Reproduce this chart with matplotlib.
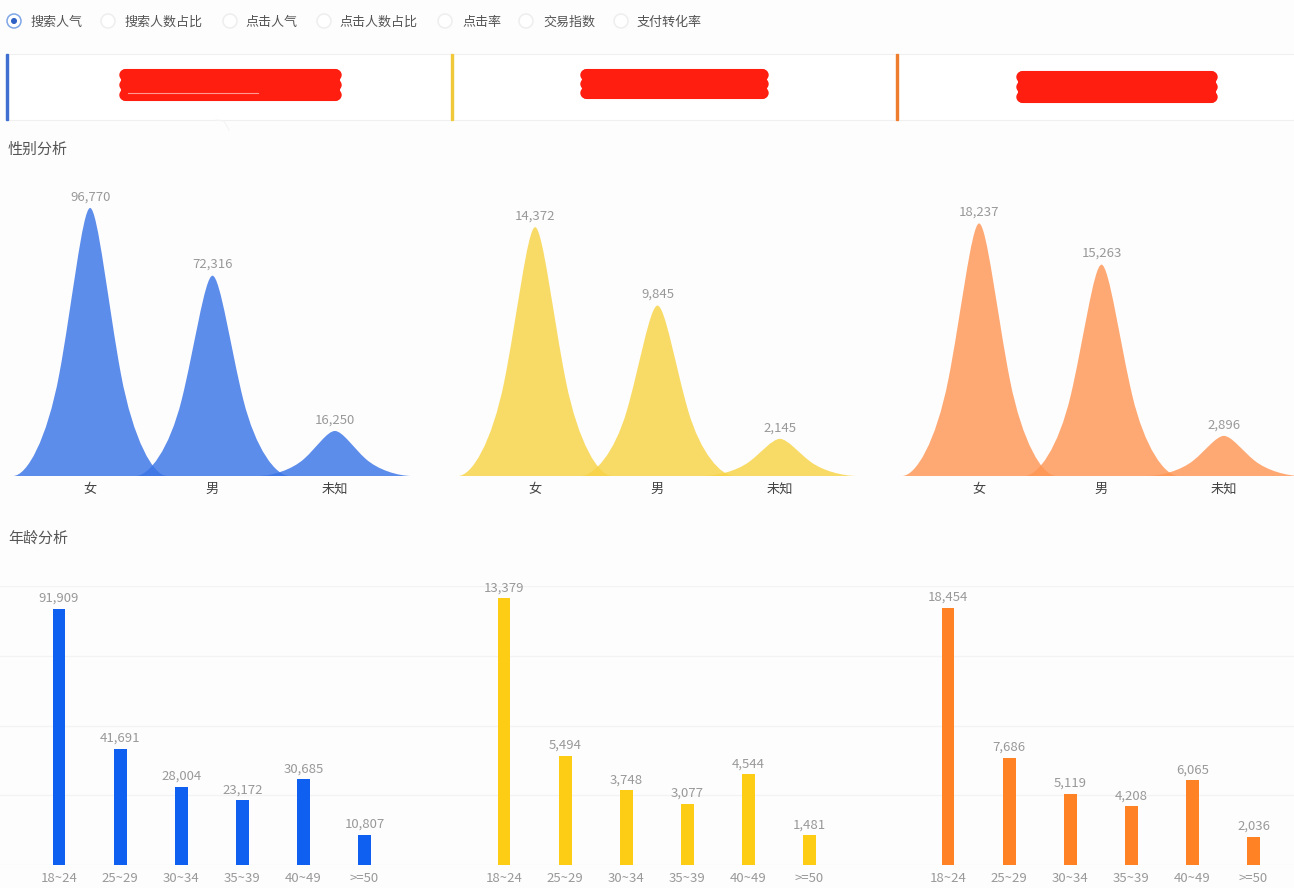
import matplotlib
matplotlib.use("Agg")
import matplotlib.pyplot as plt
import numpy as np
from matplotlib.patches import Circle, FancyBboxPatch, PathPatch, Rectangle
from matplotlib.path import Path

plt.rcParams["font.family"] = ["Noto Sans CJK SC", "DejaVu Sans"]

W, H = 1294, 888
BG = "#fdfdfd"

metric_options = ["搜索人气", "搜索人数占比", "点击人气", "点击人数占比", "点击率", "交易指数", "支付转化率"]
gender_labels = ["女", "男", "未知"]
age_labels = ["18~24", "25~29", "30~34", "35~39", "40~49", ">=50"]

gender_a = [96770, 72316, 16250]
gender_b = [14372, 9845, 2145]
gender_c = [18237, 15263, 2896]

age_a = [91909, 41691, 28004, 23172, 30685, 10807]
age_b = [13379, 5494, 3748, 3077, 4544, 1481]
age_c = [18454, 7686, 5119, 4208, 6065, 2036]

gender_max = [100000, 16000, 20000]
age_max = [100000, 14000, 20000]

peak_colors = ["#3a74e6", "#f7d345", "#ff9655"]
bar_colors = ["#0f5ff0", "#fccd14", "#ff8224"]
edge_colors = ["#3f6fd0", "#f0c93a", "#ef7d2e"]


def px_axes(fig, x0, y0, x1, y1):
    # pixel box, y measured from the top of the image
    ax = fig.add_axes([x0 / W, 1 - y1 / H, (x1 - x0) / W, (y1 - y0) / H])
    ax.patch.set_alpha(0)
    for s in ax.spines.values():
        s.set_visible(False)
    return ax


def bump(x, h, w=0.63):
    # long flared foot, narrow top, built from two cubic segments per side
    verts = [
        (x - w, 0),
        (x - 0.82 * w, 0),
        (x - 0.56 * w, 0.134 * h),
        (x - 0.40 * w, 0.38 * h),
        (x - 0.24 * w, 0.626 * h),
        (x - 0.10 * w, h),
        (x, h),
        (x + 0.10 * w, h),
        (x + 0.24 * w, 0.626 * h),
        (x + 0.40 * w, 0.38 * h),
        (x + 0.56 * w, 0.134 * h),
        (x + 0.82 * w, 0),
        (x + w, 0),
        (x - w, 0),
    ]
    codes = [Path.MOVETO] + [Path.CURVE4] * 12 + [Path.CLOSEPOLY]
    return Path(verts, codes)


def plot_gender(ax, values, ymax, color):
    for i, v in enumerate(values):
        ax.add_patch(PathPatch(bump(i, v), facecolor=color, edgecolor="none",
                               alpha=0.82, clip_on=False))
        ax.annotate(f"{v:,}", (i, v), xytext=(0, 8), textcoords="offset points",
                    ha="center", va="center", fontsize=9.5, color="#999999")
    ax.set_xlim(-0.63, 2.63)
    ax.set_ylim(0, ymax)
    ax.set_yticks([])
    ax.set_xticks(range(3))
    ax.set_xticklabels(gender_labels, fontsize=9.5, color="#444444")
    ax.tick_params(axis="x", length=0, pad=5)


def plot_age(ax, values, ymax, color, xlim):
    x = np.arange(len(values))
    ax.bar(x, values, width=0.21, color=color, zorder=3)
    for i, v in enumerate(values):
        ax.annotate(f"{v:,}", (i, v), xytext=(0, 7.5), textcoords="offset points",
                    ha="center", va="center", fontsize=9.5, color="#999999", zorder=4)
    ax.set_xlim(*xlim)
    ax.set_ylim(0, ymax)
    ax.set_yticks(np.linspace(0, ymax, 5))
    ax.set_yticklabels([])
    ax.grid(axis="y", color="#f3f3f3", lw=0.9, zorder=0)
    ax.set_xticks(x)
    ax.set_xticklabels(age_labels, fontsize=9.5, color="#999999")
    ax.tick_params(axis="both", length=0)
    ax.tick_params(axis="x", pad=5)


fig = plt.figure(figsize=(W / 100, H / 100), dpi=100, facecolor=BG)

# page chrome in pixel coordinates
page = fig.add_axes([0, 0, 1, 1])
page.set_xlim(0, W)
page.set_ylim(H, 0)
page.axis("off")

radio_x = [14, 108, 230, 324, 445, 526, 621]
label_x = [30, 124, 245, 339, 462, 543, 637]
for i, (rx, lx, name) in enumerate(zip(radio_x, label_x, metric_options)):
    on = i == 0
    page.add_patch(Circle((rx, 21), 7, facecolor="#ffffff",
                          edgecolor="#7fa6e6" if on else "#eeeeee", lw=1.1))
    if on:
        page.add_patch(Circle((rx, 21), 2.3, color="#2f62c4"))
    page.text(lx, 26, name, fontsize=9.4, color="#555555", va="baseline", ha="left")

# white summary band
page.add_patch(Rectangle((7, 54), W - 7, 66, facecolor="#ffffff", edgecolor="#f0f0f0", lw=0.8))
page.plot([216, 224, 229], [120, 121, 130], color="#f3f3f3", lw=0.8)
for x, c in zip([7, 452, 897], edge_colors):
    page.add_patch(Rectangle((x - 1, 54), 2, 66, color=c, zorder=3))

# redaction blocks, scalloped at the ends like a marker stroke
for x0, y0, x1, y1 in [(122, 70, 339, 100), (583, 70, 766, 98), (1019, 72, 1215, 102)]:
    page.add_patch(FancyBboxPatch((x0, y0), x1 - x0, y1 - y0, boxstyle="round,pad=0,rounding_size=4",
                                  facecolor="#ff1e10", edgecolor="#ff1e10", lw=1.5, zorder=3))
    for yy in np.linspace(y0 + 5, y1 - 5, 3):
        page.add_patch(Circle((x0 + 3, yy), 5, color="#ff1e10", zorder=3))
        page.add_patch(Circle((x1 - 3, yy), 5, color="#ff1e10", zorder=3))
page.plot([128, 258], [93, 93], color="#ff9a90", lw=0.8, zorder=4)

page.text(8, 150, "性别分析", fontsize=10.8, color="#555555", va="center", ha="left")
page.text(8, 539, "年龄分析", fontsize=10.8, color="#555555", va="center", ha="left")

gender_sets = [gender_a, gender_b, gender_c]
age_sets = [age_a, age_b, age_c]
gender_left = [13, 458, 902]
age_first = [59, 504, 948]
age_bounds = [(0, 445), (445, 890), (890, 1294)]

for k in range(3):
    ax = px_axes(fig, gender_left[k], 199, gender_left[k] + 399, 476)
    plot_gender(ax, gender_sets[k], gender_max[k], peak_colors[k])

    x0, x1 = age_bounds[k]
    ax = px_axes(fig, x0, 586, x1, 865)
    xlim = ((x0 - age_first[k]) / 61.1, (x1 - age_first[k]) / 61.1)
    plot_age(ax, age_sets[k], age_max[k], bar_colors[k], xlim)

fig.savefig("out.png", dpi=100, facecolor=BG)
